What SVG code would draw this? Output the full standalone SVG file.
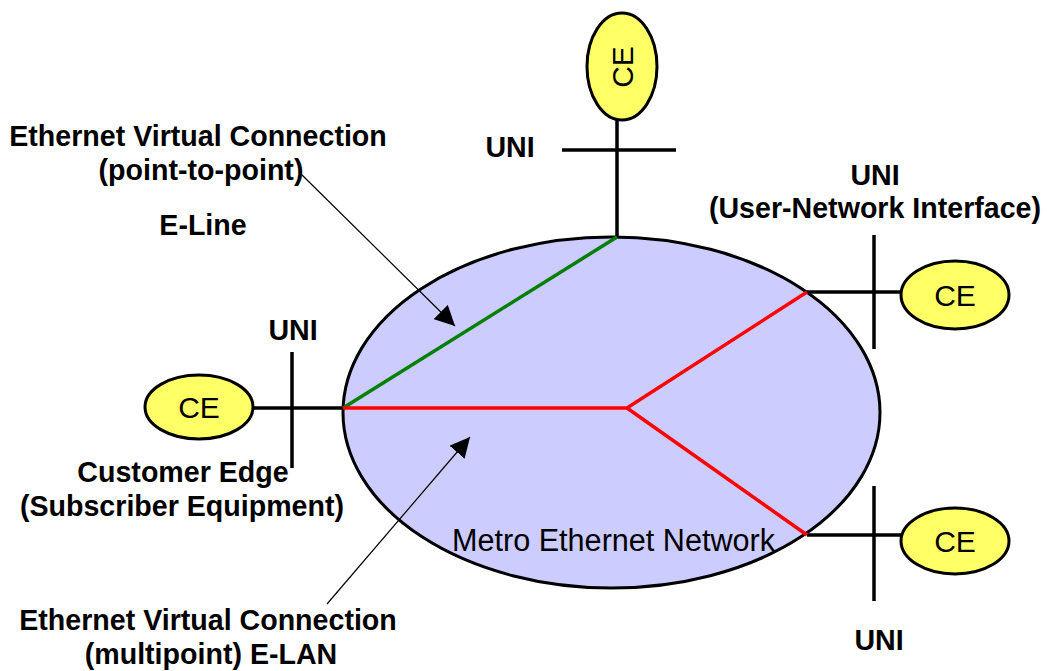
<svg xmlns="http://www.w3.org/2000/svg" width="1047" height="671" viewBox="0 0 1047 671">
<defs>
<style>
.lbl{font-family:"Liberation Sans",Arial,sans-serif;font-size:28.6px;font-weight:bold;fill:#000;text-anchor:middle}
.ce{font-family:"Liberation Sans",Arial,sans-serif;font-size:30px;fill:#000;text-anchor:middle}
.net{font-family:"Liberation Sans",Arial,sans-serif;font-size:30.6px;fill:#000}
.ceshape{fill:#FFFF66;stroke:#000;stroke-width:3}
.blk{stroke:#000;stroke-width:3.5;fill:none}
.ptr{stroke:#000;stroke-width:1.2;fill:none}
</style>
<marker id="ah" viewBox="0 0 10 10" refX="10" refY="5" markerWidth="20" markerHeight="20" markerUnits="userSpaceOnUse" orient="auto">
<path d="M0,0 L10,5 L0,10 Z" fill="#000"/>
</marker>
</defs>
<rect width="1047" height="671" fill="#fff"/>

<g id="metro-network">
<ellipse cx="611.5" cy="412.5" rx="268.5" ry="175.5" fill="#CCCCFF" stroke="#000" stroke-width="3"/>
<text class="net" x="452" y="551">Metro Ethernet Network</text>
</g>

<g id="connectors">
<line class="blk" x1="617" y1="120" x2="617" y2="237"/>
<line class="blk" x1="562" y1="150" x2="676" y2="150"/>
<line class="blk" x1="252" y1="408" x2="343" y2="408"/>
<line class="blk" x1="292" y1="352" x2="292" y2="468"/>
<line class="blk" x1="807" y1="292" x2="902" y2="292"/>
<line class="blk" x1="874" y1="235" x2="874" y2="349"/>
<line class="blk" x1="807" y1="535" x2="902" y2="535"/>
<line class="blk" x1="874" y1="486" x2="874" y2="601"/>
<line x1="617" y1="237" x2="343" y2="408" stroke="#008000" stroke-width="3.5"/>
<polyline points="343,408 627,408 807,292" fill="none" stroke="#FF0000" stroke-width="3.5"/>
<line x1="627" y1="408" x2="807" y2="535" stroke="#FF0000" stroke-width="3.5"/>
<line class="ptr" x1="299" y1="172" x2="455" y2="326" marker-end="url(#ah)"/>
<line class="ptr" x1="327" y1="604" x2="470" y2="437" marker-end="url(#ah)"/>
</g>

<g id="ce-top">
<ellipse class="ceshape" cx="622" cy="66.5" rx="35" ry="53.5"/>
<text class="ce" transform="translate(633,67) rotate(-90)" x="0" y="0">CE</text>
</g>
<g id="ce-left">
<ellipse class="ceshape" cx="199" cy="407" rx="54" ry="32"/>
<text class="ce" x="199" y="418">CE</text>
</g>
<g id="ce-right-top">
<ellipse class="ceshape" cx="955" cy="295" rx="54" ry="34"/>
<text class="ce" x="955" y="306">CE</text>
</g>
<g id="ce-right-bottom">
<ellipse class="ceshape" cx="955" cy="541" rx="54" ry="33"/>
<text class="ce" x="955" y="552">CE</text>
</g>

<g id="labels">
<text class="lbl" x="198" y="146">Ethernet Virtual Connection</text>
<text class="lbl" x="201" y="180">(point-to-point)</text>
<text class="lbl" x="203" y="235">E-Line</text>
<text class="lbl" x="510" y="157">UNI</text>
<text class="lbl" x="875" y="185">UNI</text>
<text class="lbl" x="875" y="218">(User-Network Interface)</text>
<text class="lbl" x="293" y="340">UNI</text>
<text class="lbl" x="183" y="482">Customer Edge</text>
<text class="lbl" x="182" y="516">(Subscriber Equipment)</text>
<text class="lbl" x="208" y="630">Ethernet Virtual Connection</text>
<text class="lbl" x="211" y="664">(multipoint) E-LAN</text>
<text class="lbl" x="879" y="650">UNI</text>
</g>
</svg>
